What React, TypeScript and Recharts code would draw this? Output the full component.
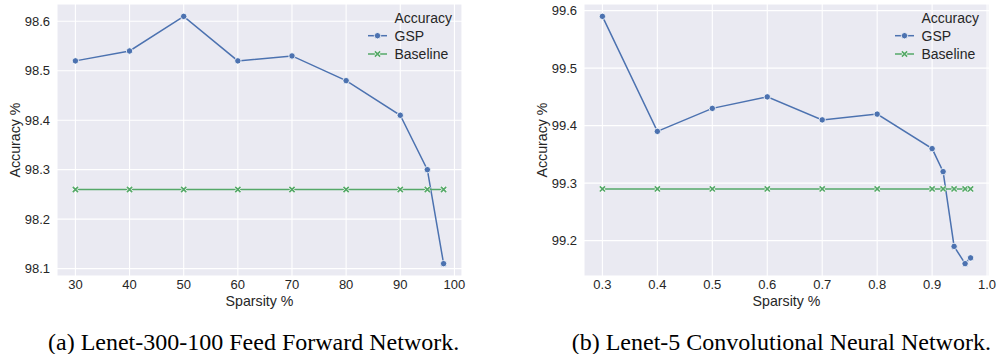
import React from 'react';
import { LineChart, Line, XAxis, YAxis, CartesianGrid, Legend } from 'recharts';

// left panel: Lenet-300-100
const sparsityA = [30, 40, 50, 60, 70, 80, 90, 95, 98];
const gspA = [98.52, 98.54, 98.61, 98.52, 98.53, 98.48, 98.41, 98.3, 98.11];
const baselineA = [98.26, 98.26, 98.26, 98.26, 98.26, 98.26, 98.26, 98.26, 98.26];
const xTicksA = [30, 40, 50, 60, 70, 80, 90, 100];
const yTicksA = [98.1, 98.2, 98.3, 98.4, 98.5, 98.6];

// right panel: Lenet-5
const sparsityB = [0.3, 0.4, 0.5, 0.6, 0.7, 0.8, 0.9, 0.92, 0.94, 0.96, 0.97];
const gspB = [99.59, 99.39, 99.43, 99.45, 99.41, 99.42, 99.36, 99.32, 99.19, 99.16, 99.17];
const baselineB = [99.29, 99.29, 99.29, 99.29, 99.29, 99.29, 99.29, 99.29, 99.29, 99.29, 99.29];
const xTicksB = [0.3, 0.4, 0.5, 0.6, 0.7, 0.8, 0.9, 1.0];
const yTicksB = [99.2, 99.3, 99.4, 99.5, 99.6];

const captions = [
  '(a) Lenet-300-100 Feed Forward Network.',
  '(b) Lenet-5 Convolutional Neural Network.',
];

const BLUE = '#4C72B0';
const GREEN = '#55A868';
const TEXT = '#262626';
const SANS = '"Liberation Sans", Arial, Helvetica, sans-serif';

// seaborn-ish 5% padding around the data range
const padded = (vals: number[]): [number, number] => {
  const lo = Math.min(...vals);
  const hi = Math.max(...vals);
  const p = (hi - lo) * 0.05;
  return [lo - p, hi + p];
};

const CircleDot = (props: any) => {
  const { cx, cy, key } = props;
  if (cx == null || cy == null) return <g key={key} />;
  return <circle key={key} cx={cx} cy={cy} r={3.2} fill={BLUE} stroke="#fff" strokeWidth={0.8} />;
};

const XDot = (props: any) => {
  const { cx, cy, key } = props;
  if (cx == null || cy == null) return <g key={key} />;
  const s = 2.6;
  const d = `M${cx - s},${cy - s}L${cx + s},${cy + s}M${cx - s},${cy + s}L${cx + s},${cy - s}`;
  return (
    <g key={key}>
      <path d={d} stroke="#fff" strokeWidth={2.8} />
      <path d={d} stroke={GREEN} strokeWidth={1.7} />
    </g>
  );
};

const LegendBox = () => (
  <svg width={110} height={64} style={{ fontFamily: SANS, overflow: 'visible' }}>
    <text x={34.5} y={19.3} fontSize={14} fill={TEXT}>Accuracy</text>
    <line x1={8} x2={27} y1={31.7} y2={31.7} stroke={BLUE} strokeWidth={1.5} />
    <circle cx={17.5} cy={31.7} r={3.2} fill={BLUE} stroke="#fff" strokeWidth={0.8} />
    <text x={34.5} y={36.7} fontSize={14} fill={TEXT}>GSP</text>
    <line x1={8} x2={27} y1={50} y2={50} stroke={GREEN} strokeWidth={1.5} />
    <XDot cx={17.5} cy={50} />
    <text x={34.5} y={55} fontSize={14} fill={TEXT}>Baseline</text>
  </svg>
);

const YLabel = (props: any) => {
  const { viewBox } = props;
  const x = viewBox.x + 20;
  const y = viewBox.y + viewBox.height / 2;
  return (
    <text x={x} y={y} transform={`rotate(-90, ${x}, ${y})`} textAnchor="middle"
      fontSize={14.2} fill={TEXT} fontFamily={SANS}>
      Accuracy %
    </text>
  );
};

const XLabel = (props: any) => {
  const { viewBox } = props;
  return (
    <text x={viewBox.x + viewBox.width / 2} y={viewBox.y + 29.5} textAnchor="middle"
      fontSize={14.2} fill={TEXT} fontFamily={SANS}>
      Sparsity %
    </text>
  );
};

type PanelProps = {
  left: number;
  xs: number[];
  gsp: number[];
  baseline: number[];
  xTicks: number[];
  yTicks: number[];
  xFmt: (v: number) => string;
};

function Panel({ left, xs, gsp, baseline, xTicks, yTicks, xFmt }: PanelProps) {
  const data = xs.map((s, i) => ({ s, gsp: gsp[i], baseline: baseline[i] }));
  const tick = { fontSize: 13, fill: TEXT, fontFamily: SANS };
  return (
    <div style={{ position: 'absolute', left, top: 0 }}>
      <LineChart width={470} height={320} data={data}
        margin={{ top: 4, right: 8, bottom: 0, left: 0 }}
        style={{ fontFamily: SANS }}>
        <CartesianGrid fill="#EAEAF2" stroke="#fff" strokeWidth={1.1} />
        <XAxis dataKey="s" type="number" domain={padded(xs)} ticks={xTicks}
          tickFormatter={xFmt} axisLine={false} tickLine={false}
          tickSize={4} tickMargin={0} height={44} tick={tick}
          allowDataOverflow interval={0} label={<XLabel />} />
        <YAxis type="number" domain={padded([...gsp, ...baseline])} ticks={yTicks}
          tickFormatter={(v: number) => v.toFixed(1)} axisLine={false} tickLine={false}
          tickSize={5} tickMargin={2} width={57} tick={tick}
          allowDataOverflow interval={0} label={<YLabel />} />
        <Line dataKey="gsp" type="linear" stroke={BLUE} strokeWidth={1.5}
          dot={CircleDot} activeDot={false} isAnimationActive={false} />
        <Line dataKey="baseline" type="linear" stroke={GREEN} strokeWidth={1.5}
          dot={XDot} activeDot={false} isAnimationActive={false} />
        <Legend layout="vertical" align="center" verticalAlign="middle"
          content={<LegendBox />}
          wrapperStyle={{ position: 'absolute', left: 360, top: 4, width: 110, height: 64 }} />
      </LineChart>
    </div>
  );
}

export default function App() {
  return (
    <div style={{ position: 'absolute', left: 0, top: 0, width: 997, height: 354, background: '#fff', overflow: 'hidden' }}>
      <Panel left={0} xs={sparsityA} gsp={gspA} baseline={baselineA}
        xTicks={xTicksA} yTicks={yTicksA} xFmt={(v) => String(v)} />
      <Panel left={527} xs={sparsityB} gsp={gspB} baseline={baselineB}
        xTicks={xTicksB} yTicks={yTicksB} xFmt={(v) => v.toFixed(1)} />
      <svg width={997} height={354} style={{ position: 'absolute', left: 0, top: 0, pointerEvents: 'none' }}>
        <text x={48} y={350} fontSize={24} fill="#000" fontFamily='"Liberation Serif", "Times New Roman", serif'>
          {captions[0]}
        </text>
        <text x={571.7} y={350} fontSize={24} fill="#000" fontFamily='"Liberation Serif", "Times New Roman", serif'>
          {captions[1]}
        </text>
      </svg>
    </div>
  );
}
